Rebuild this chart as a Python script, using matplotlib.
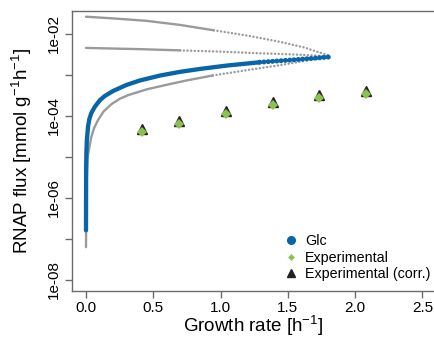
import numpy as np
import matplotlib
matplotlib.use("Agg")
import matplotlib.pyplot as plt
from matplotlib.lines import Line2D

plt.rcParams['font.family'] = ['Liberation Sans', 'DejaVu Sans']
plt.rcParams['mathtext.fontset'] = 'custom'
plt.rcParams['mathtext.rm'] = 'Liberation Sans'
plt.rcParams['mathtext.it'] = 'Liberation Sans:italic'

# ---- data ----
glc_x = [2e-5, 1e-3, 3e-3, 6e-3, 0.015, 0.025, 0.04, 0.065, 0.104, 0.14, 0.2,
         0.3, 0.4, 0.55, 0.7, 0.85, 1.045, 1.29, 1.54, 1.83]
glc_y = [1.62e-7, 5.0e-6, 1.3e-5, 2.4e-5, 5.4e-5, 8.3e-5, 1.17e-4, 1.64e-4,
         2.4e-4, 3.02e-4, 3.98e-4, 5.6e-4, 7.2e-4, 9.5e-4, 1.17e-3, 1.38e-3,
         1.66e-3, 2.0e-3, 2.29e-3, 2.72e-3]

low_x = [2e-5, 3e-3, 0.012, 0.039, 0.06, 0.089, 0.13, 0.188, 0.25, 0.312,
         0.45, 0.609, 0.75, 0.943, 1.2, 1.441, 1.62, 1.80]
low_y = [6.3e-8, 1.6e-6, 1.0e-5, 3.0e-5, 5.0e-5, 7.8e-5, 1.26e-4, 1.9e-4,
         2.57e-4, 3.16e-4, 4.37e-4, 5.75e-4, 7.24e-4, 9.55e-4, 1.29e-3,
         1.7e-3, 2.14e-3, 2.75e-3]

up_x = [0.0, 0.2, 0.45, 0.7, 0.95, 1.2, 1.44, 1.62, 1.80]
up_y = [2.57e-2, 2.34e-2, 2.04e-2, 1.62e-2, 1.20e-2, 8.9e-3, 6.3e-3, 4.6e-3, 2.95e-3]

mid_x = [0.0, 0.4, 0.7, 1.0, 1.29, 1.55, 1.81]
mid_y = [4.47e-3, 4.17e-3, 3.89e-3, 3.63e-3, 3.31e-3, 3.09e-3, 2.79e-3]

exp_x = [0.416, 0.693, 1.040, 1.386, 1.733, 2.079]
exp_y = [3.98e-5, 6.2e-5, 1.10e-4, 1.82e-4, 2.69e-4, 3.31e-4]
corr_y = [4.69e-5, 7.35e-5, 1.29e-4, 2.13e-4, 3.16e-4, 3.96e-4]

x_ticks = [0.0, 0.5, 1.0, 1.5, 2.0, 2.5]
x_ticklabels = ['0.0', '0.5', '1.0', '1.5', '2.0', '2.5']
y_ticks = [1e-8, 1e-7, 1e-6, 1e-5, 1e-4, 1e-3, 1e-2]
y_ticklabels = ['1e-08', '', '1e-06', '', '1e-04', '', '1e-02']

legend_labels = ['Glc', 'Experimental', 'Experimental (corr.)']

# ---- style ----
BLUE = '#0765a8'
GRAY = '#9a9a9a'
GREEN = '#8cc152'
DARK = '#222222'
AX = '#6b6b6b'

W, H = 435, 337
fig = plt.figure(figsize=(W / 100, H / 100), dpi=100)
ax = fig.add_axes([72 / W, 1 - 291 / H, 1 - 72 / W, (291 - 11) / H])
ax.set_yscale('log')


def draw(xs, ys, split, color, lw, dlw, dots, z):
    ax.plot(xs[:split + 1], ys[:split + 1], color=color, lw=lw,
            solid_capstyle='round', zorder=z)
    ax.plot(xs[split:], ys[split:], color=color, lw=dlw, linestyle=(0, dots),
            dash_capstyle='round', zorder=z)


draw(up_x, up_y, 4, GRAY, 1.7, 1.8, (0.01, 1.45), 2)
draw(mid_x, mid_y, 2, GRAY, 1.7, 1.8, (0.01, 1.45), 2)
draw(low_x, low_y, 13, GRAY, 1.7, 1.8, (0.01, 1.45), 2)
draw(glc_x, glc_y, 17, BLUE, 3.1, 3.6, (0.01, 0.85), 3)

ax.plot(exp_x, corr_y, linestyle='none', marker='^', ms=7.5, color=DARK, zorder=4)
ax.plot(exp_x, exp_y, linestyle='none', marker='D', ms=4.6, color=GREEN,
        markeredgewidth=0, zorder=5)

ax.set_xlim(-0.104, 2.593)
ax.set_ylim(10 ** -8.268, 10 ** -1.451)

ax.set_xticks(x_ticks)
ax.set_xticklabels(x_ticklabels)
ax.set_yticks(y_ticks)
ax.set_yticklabels(y_ticklabels, rotation=90, va='center')
ax.yaxis.set_minor_locator(matplotlib.ticker.NullLocator())

for s in ['left', 'bottom', 'top']:
    ax.spines[s].set_color(AX)
    ax.spines[s].set_linewidth(1.0)
ax.spines['right'].set_visible(False)
ax.tick_params(axis='both', colors=AX, labelcolor='black', labelsize=11,
               length=5, width=1.0)
ax.tick_params(axis='x', pad=2)
ax.tick_params(axis='y', pad=3)

ax.set_xlabel(r'Growth rate [h$^{\mathrm{-1}}$]', fontsize=13.5)
ax.set_ylabel(r'RNAP flux [mmol g$^{\mathrm{-1}}$h$^{\mathrm{-1}}$]', fontsize=13.5)
ax.xaxis.set_label_coords(0.5, (291 - 326) / 280, transform=ax.transAxes)
ax.yaxis.set_label_coords((22 - 72) / 363, 0.5, transform=ax.transAxes)
ax.xaxis.label.set_va('center')
ax.yaxis.label.set_va('center')

handles = [
    Line2D([], [], linestyle='none', marker='o', ms=5.5, color=BLUE),
    Line2D([], [], linestyle='none', marker='D', ms=3.5, color=GREEN, markeredgewidth=0),
    Line2D([], [], linestyle='none', marker='^', ms=6, color=DARK),
]
leg = ax.legend(handles, legend_labels, loc='upper left',
                bbox_to_anchor=(278 / W, 1 - 228 / H),
                bbox_transform=fig.transFigure, frameon=False,
                fontsize=10.3, handlelength=1.0, handletextpad=0.5,
                labelspacing=0.2, borderpad=0.4, borderaxespad=0)

fig.savefig('out.png', dpi=100)
